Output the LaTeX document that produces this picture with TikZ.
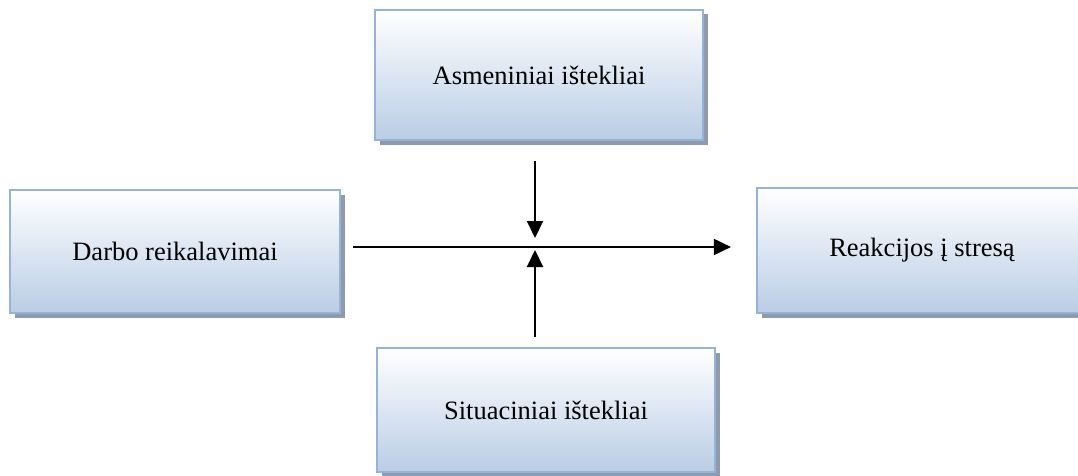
\documentclass[tikz,border=0pt]{standalone}
\usepackage{fontspec}
\setmainfont{Liberation Serif}
\usetikzlibrary{arrows.meta,positioning,shadows}
\definecolor{remelis}{RGB}{149,179,215}
\definecolor{melyna}{RGB}{185,205,229}
\definecolor{seselis}{RGB}{142,155,174}

\begin{document}
\begin{tikzpicture}[x=1pt,y=1pt,
        blokas/.style={draw=remelis,line width=2.2pt,top color=white,bottom color=melyna,
                       minimum width=330pt,minimum height=124pt,inner sep=3pt,
                       font=\fontsize{26.5}{30}\selectfont,
                       drop shadow={shadow xshift=4.5pt,shadow yshift=-4.5pt,fill=seselis,opacity=1}},
        rodykle/.style={-{Triangle[length=17pt,width=16pt]},line width=2pt,black}]
      \useasboundingbox (0,0) rectangle (1078,475);
      \node[blokas,minimum width=328pt,minimum height=130pt] (asm) at (539,400) {Asmeniniai ištekliai};
      \node[blokas,minimum height=123pt] (darbo) at (175,223.5) {Darbo reikalavimai};
      \node[blokas,minimum height=125pt] (reak) at (922,224.5) {Reakcijos į stresą};
      \node[blokas,minimum width=338pt] (sit) at (546,65) {Situaciniai ištekliai};
      \coordinate (centras) at (535,228);
      \draw[rodykle,shorten <=12pt,shorten >=25pt](darbo.east |- centras)--(reak.west |- centras);
      \draw[rodykle,shorten <=20pt,shorten >=9pt](centras |- asm.south)--(centras);
      \draw[rodykle,shorten <=10pt,shorten >=3pt](centras |- sit.north)--(centras);
    \end{tikzpicture}
\end{document}
